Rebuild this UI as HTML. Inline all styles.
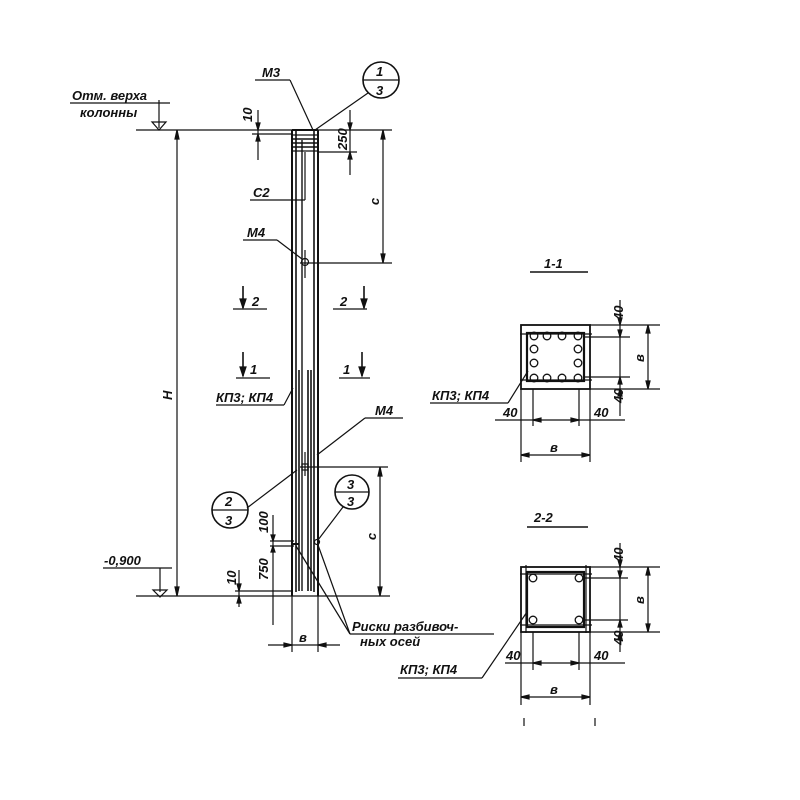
<!DOCTYPE html>
<html><head><meta charset="utf-8"><style>
html,body{margin:0;padding:0;background:#fff}
svg{display:block}
text{font-family:"Liberation Sans","DejaVu Sans",sans-serif;font-style:italic;font-weight:bold;fill:#111;font-size:13px}
</style></head><body>
<svg width="800" height="800" viewBox="0 0 800 800" xmlns="http://www.w3.org/2000/svg">
<g stroke="#111" stroke-width="1.2" fill="none">
<!-- top level line -->
<line x1="136" y1="130" x2="392" y2="130"/>
<line x1="136" y1="596" x2="390" y2="596"/>
<!-- H dim -->
<line x1="177" y1="130" x2="177" y2="596"/>
<path d="M177 130 l-2 9 h4z M177 596 l-2 -9 h4z" fill="#111"/>
<!-- top elevation -->
<line x1="70" y1="103" x2="170" y2="103"/>
<line x1="159" y1="100" x2="159" y2="128"/>
<path d="M152 122 L166 122 L159 130 Z"/>
<!-- bottom elevation -->
<line x1="103" y1="568" x2="172" y2="568"/>
<line x1="160" y1="568" x2="160" y2="592"/>
<path d="M153 590 L167 590 L160 597 Z"/>
<!-- column -->
<line x1="292" y1="130" x2="292" y2="596" stroke-width="2"/>
<line x1="318" y1="130" x2="318" y2="596" stroke-width="2"/>
<line x1="296" y1="130" x2="296" y2="592" stroke-width="1.6"/>
<line x1="314" y1="130" x2="314" y2="592" stroke-width="1.6"/>
<line x1="292" y1="130" x2="318" y2="130" stroke-width="2"/>
<line x1="299" y1="370" x2="299" y2="591" stroke-width="1.6"/>
<line x1="302" y1="140" x2="302" y2="591" stroke-width="1.4"/>
<line x1="308" y1="370" x2="308" y2="591" stroke-width="1.6"/>
<line x1="311" y1="370" x2="311" y2="591" stroke-width="1.6"/>
<line x1="292" y1="135" x2="318" y2="135"/>
<line x1="292" y1="139" x2="318" y2="139" stroke-width="1.6"/>
<line x1="292" y1="143" x2="318" y2="143" stroke-width="1.6"/>
<line x1="292" y1="147" x2="318" y2="147" stroke-width="1.6"/>
<line x1="292" y1="151" x2="318" y2="151"/>
<!-- M3 -->
<line x1="255" y1="80" x2="290" y2="80"/>
<line x1="290" y1="80" x2="313" y2="130"/>
<circle cx="381" cy="80" r="18" stroke-width="1.6"/>
<line x1="363" y1="80" x2="399" y2="80"/>
<line x1="315" y1="130" x2="368" y2="93"/>
<!-- 10 top dim -->
<line x1="258" y1="110" x2="258" y2="160"/>
<line x1="252" y1="134" x2="292" y2="134"/>
<path d="M258 130 l-2 -7 h4z M258 134 l-2 7 h4z" fill="#111"/>
<!-- 250 dim -->
<line x1="350" y1="110" x2="350" y2="175"/>
<line x1="318" y1="152" x2="357" y2="152"/>
<path d="M350 130 l-2 -7 h4z M350 152 l-2 7 h4z" fill="#111"/>
<!-- c dim top -->
<line x1="383" y1="130" x2="383" y2="263"/>
<path d="M383 130 l-2 9 h4z M383 263 l-2 -9 h4z" fill="#111"/>
<line x1="300" y1="263" x2="392" y2="263"/>
<!-- C2 -->
<line x1="250" y1="200" x2="305" y2="200"/>
<line x1="305" y1="200" x2="305" y2="152"/>
<!-- M4 top -->
<line x1="243" y1="240" x2="277" y2="240"/>
<line x1="277" y1="240" x2="302" y2="259"/>
<circle cx="305" cy="262" r="3.5"/>
<line x1="305" y1="250" x2="305" y2="278"/>
<!-- section marks 2 -->
<line x1="233" y1="309" x2="267" y2="309"/>
<line x1="243" y1="286" x2="243" y2="308" stroke-width="1.6"/>
<path d="M243 308 l-3 -9 h6z" fill="#111"/>
<line x1="333" y1="309" x2="367" y2="309"/>
<line x1="364" y1="286" x2="364" y2="308" stroke-width="1.6"/>
<path d="M364 308 l-3 -9 h6z" fill="#111"/>
<!-- section marks 1 -->
<line x1="236" y1="378" x2="270" y2="378"/>
<line x1="243" y1="352" x2="243" y2="376" stroke-width="1.6"/>
<path d="M243 376 l-3 -9 h6z" fill="#111"/>
<line x1="339" y1="378" x2="370" y2="378"/>
<line x1="362" y1="352" x2="362" y2="376" stroke-width="1.6"/>
<path d="M362 376 l-3 -9 h6z" fill="#111"/>
<!-- KP leader -->
<line x1="216" y1="405" x2="284" y2="405"/>
<line x1="284" y1="405" x2="293" y2="388"/>
<!-- M4 lower -->
<line x1="365" y1="418" x2="403" y2="418"/>
<line x1="365" y1="418" x2="317" y2="455"/>
<rect x="302" y="464" width="6" height="6"/>
<line x1="305" y1="452" x2="305" y2="476"/>
<line x1="300" y1="467" x2="388" y2="467"/>
<line x1="380" y1="467" x2="380" y2="596"/>
<path d="M380 467 l-2 9 h4z M380 596 l-2 -9 h4z" fill="#111"/>
<!-- circle 2/3 -->
<circle cx="230" cy="510" r="18" stroke-width="1.6"/>
<line x1="212" y1="510" x2="248" y2="510"/>
<line x1="247" y1="508" x2="297" y2="470"/>
<!-- circle 3/3 -->
<circle cx="352" cy="492" r="17" stroke-width="1.6"/>
<line x1="335" y1="492" x2="369" y2="492"/>
<line x1="343" y1="507" x2="318" y2="540"/>
<!-- 100/750 dims -->
<line x1="273" y1="515" x2="273" y2="625"/>
<line x1="270" y1="541" x2="294" y2="541"/>
<line x1="270" y1="546" x2="294" y2="546"/>
<path d="M273 541 l-2 -6 h4z M273 546 l-2 6 h4z" fill="#111"/>
<line x1="292" y1="544" x2="299" y2="544" stroke-width="2"/>
<circle cx="317" cy="542" r="2.5"/>
<!-- 10 bottom -->
<line x1="239" y1="570" x2="239" y2="607"/>
<line x1="235" y1="591" x2="292" y2="591"/>
<path d="M239 591 l-2 -7 h4z M239 596 l-2 7 h4z" fill="#111"/>
<!-- bottom b dim -->
<line x1="292" y1="596" x2="292" y2="652"/>
<line x1="318" y1="596" x2="318" y2="652"/>
<line x1="268" y1="645" x2="340" y2="645"/>
<path d="M292 645 l-8 -2 v4z M318 645 l8 -2 v4z" fill="#111"/>
<!-- riski leaders -->
<line x1="350" y1="634" x2="296" y2="546"/>
<line x1="350" y1="634" x2="318" y2="545"/>
<line x1="350" y1="634" x2="494" y2="634"/>

<!-- Section 1-1 -->
<line x1="530" y1="272" x2="588" y2="272" stroke-width="1.6"/>
<rect x="521" y="325" width="69" height="64" stroke-width="1.8"/>
<rect x="527" y="333" width="57" height="48" stroke-width="2.2"/>
<line x1="520" y1="334" x2="592" y2="334"/>
<line x1="520" y1="380" x2="592" y2="380"/>
<g stroke-width="1.3">
<circle cx="534" cy="336" r="3.8"/><circle cx="547" cy="336" r="3.8"/><circle cx="562" cy="336" r="3.8"/><circle cx="578" cy="336" r="3.8"/>
<circle cx="534" cy="349" r="3.8"/><circle cx="534" cy="363" r="3.8"/><circle cx="578" cy="349" r="3.8"/><circle cx="578" cy="363" r="3.8"/>
<circle cx="534" cy="378" r="3.8"/><circle cx="547" cy="378" r="3.8"/><circle cx="562" cy="378" r="3.8"/><circle cx="578" cy="378" r="3.8"/>
</g>
<line x1="620" y1="300" x2="620" y2="416"/>
<line x1="585" y1="337" x2="630" y2="337"/>
<line x1="585" y1="377" x2="630" y2="377"/>
<path d="M620 325 l-2 -7 h4z M620 337 l-2 -7 h4z M620 377 l-2 7 h4z M620 389 l-2 7 h4z" fill="#111"/>
<line x1="590" y1="325" x2="660" y2="325"/>
<line x1="590" y1="389" x2="660" y2="389"/>
<line x1="648" y1="325" x2="648" y2="389"/>
<path d="M648 325 l-2 8 h4z M648 389 l-2 -8 h4z" fill="#111"/>
<line x1="533" y1="389" x2="533" y2="426"/>
<line x1="579" y1="389" x2="579" y2="426"/>
<line x1="521" y1="389" x2="521" y2="462"/>
<line x1="590" y1="389" x2="590" y2="462"/>
<line x1="495" y1="420" x2="625" y2="420"/>
<path d="M533 420 l8 -2 v4z M579 420 l-8 -2 v4z" fill="#111"/>
<line x1="521" y1="455" x2="590" y2="455"/>
<path d="M521 455 l8 -2 v4z M590 455 l-8 -2 v4z" fill="#111"/>
<line x1="430" y1="403" x2="508" y2="403"/>
<line x1="508" y1="403" x2="528" y2="371"/>

<!-- Section 2-2 -->
<line x1="527" y1="527" x2="588" y2="527" stroke-width="1.6"/>
<rect x="521" y="567" width="69" height="65" stroke-width="1.8"/>
<rect x="527" y="572" width="57" height="55" stroke-width="2.2"/>
<line x1="520" y1="574" x2="592" y2="574"/>
<line x1="520" y1="625" x2="592" y2="625"/>
<line x1="526" y1="565" x2="526" y2="633"/>
<line x1="586" y1="565" x2="586" y2="633"/>
<g stroke-width="1.3">
<circle cx="533" cy="578" r="3.8"/><circle cx="579" cy="578" r="3.8"/>
<circle cx="533" cy="620" r="3.8"/><circle cx="579" cy="620" r="3.8"/>
</g>
<line x1="620" y1="543" x2="620" y2="652"/>
<line x1="585" y1="578" x2="628" y2="578"/>
<line x1="585" y1="620" x2="628" y2="620"/>
<path d="M620 567 l-2 -7 h4z M620 578 l-2 -7 h4z M620 620 l-2 7 h4z M620 632 l-2 7 h4z" fill="#111"/>
<line x1="590" y1="567" x2="660" y2="567"/>
<line x1="590" y1="632" x2="660" y2="632"/>
<line x1="648" y1="567" x2="648" y2="632"/>
<path d="M648 567 l-2 8 h4z M648 632 l-2 -8 h4z" fill="#111"/>
<line x1="533" y1="632" x2="533" y2="670"/>
<line x1="579" y1="632" x2="579" y2="670"/>
<line x1="521" y1="632" x2="521" y2="705"/>
<line x1="590" y1="632" x2="590" y2="705"/>
<line x1="505" y1="663" x2="625" y2="663"/>
<path d="M533 663 l8 -2 v4z M579 663 l-8 -2 v4z" fill="#111"/>
<line x1="521" y1="697" x2="590" y2="697"/>
<path d="M521 697 l8 -2 v4z M590 697 l-8 -2 v4z" fill="#111"/>
<line x1="398" y1="678" x2="482" y2="678"/>
<line x1="482" y1="678" x2="527" y2="612"/>
<line x1="524" y1="718" x2="524" y2="726"/>
<line x1="595" y1="718" x2="595" y2="726"/>
</g>

<g>
<text x="72" y="100" font-size="12">Отм. верха</text>
<text x="80" y="117" font-size="12">колонны</text>
<text x="104" y="565" font-size="12">-0,900</text>
<text x="262" y="77">М3</text>
<text x="376" y="76" font-size="14">1</text>
<text x="376" y="95" font-size="14">3</text>
<text x="253" y="197">С2</text>
<text x="247" y="237">М4</text>
<text x="252" y="306" font-size="15">2</text>
<text x="340" y="306" font-size="15">2</text>
<text x="250" y="374" font-size="15">1</text>
<text x="343" y="374" font-size="15">1</text>
<text x="216" y="402">КП3; КП4</text>
<text x="375" y="415" font-size="15">М4</text>
<text x="225" y="506" font-size="14">2</text>
<text x="225" y="525" font-size="14">3</text>
<text x="347" y="489" font-size="14">3</text>
<text x="347" y="506" font-size="14">3</text>
<text x="299" y="642" font-size="13">в</text>
<text x="352" y="631" font-size="13">Риски разбивоч-</text>
<text x="360" y="646" font-size="13">ных осей</text>
<text transform="translate(172,400) rotate(-90)" font-size="12">Н</text>
<text transform="translate(252,122) rotate(-90)" font-size="10">10</text>
<text transform="translate(347,150) rotate(-90)" font-size="10">250</text>
<text transform="translate(379,205) rotate(-90)" font-size="13">с</text>
<text transform="translate(376,540) rotate(-90)" font-size="13">с</text>
<text transform="translate(268,533) rotate(-90)" font-size="10">100</text>
<text transform="translate(268,580) rotate(-90)" font-size="10">750</text>
<text transform="translate(236,585) rotate(-90)" font-size="10">10</text>

<text x="544" y="268" font-size="16">1-1</text>
<text x="534" y="522" font-size="16">2-2</text>
<text x="432" y="400">КП3; КП4</text>
<text x="400" y="674">КП3; КП4</text>
<text x="503" y="417" font-size="11">40</text>
<text x="594" y="417" font-size="11">40</text>
<text x="550" y="452" font-size="13">в</text>
<text x="506" y="660" font-size="11">40</text>
<text x="594" y="660" font-size="11">40</text>
<text x="550" y="694" font-size="13">в</text>
<text transform="translate(623,320) rotate(-90)" font-size="11">40</text>
<text transform="translate(623,403) rotate(-90)" font-size="11">40</text>
<text transform="translate(644,362) rotate(-90)" font-size="13">в</text>
<text transform="translate(623,562) rotate(-90)" font-size="11">40</text>
<text transform="translate(623,645) rotate(-90)" font-size="11">40</text>
<text transform="translate(644,604) rotate(-90)" font-size="13">в</text>
</g>
</svg>
</body></html>
